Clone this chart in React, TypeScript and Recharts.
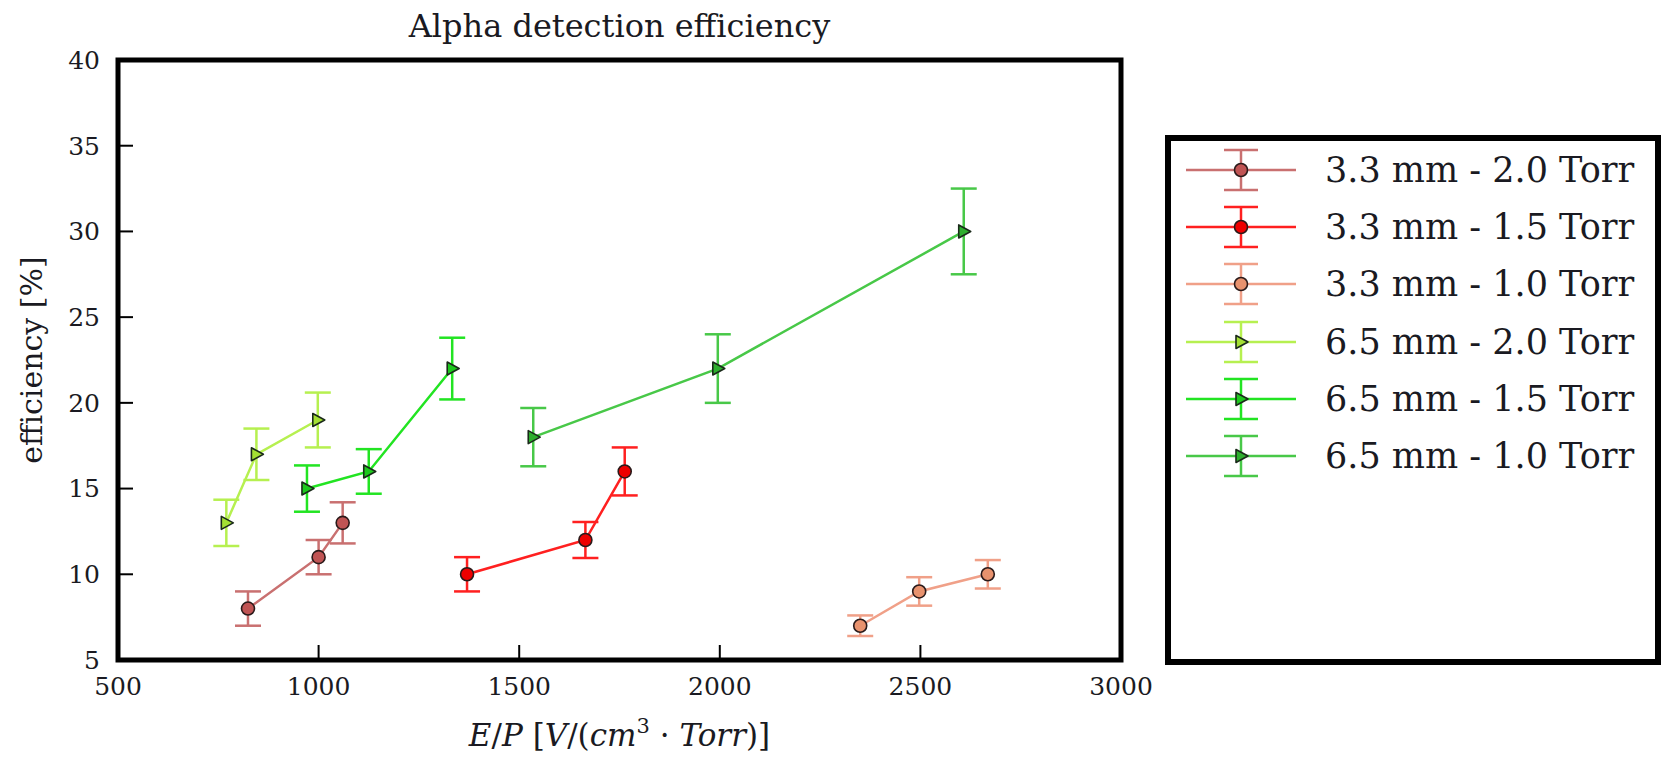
import {
  ScatterChart,
  Scatter,
  XAxis,
  YAxis,
  ErrorBar,
  ReferenceArea,
  Legend,
} from 'recharts';

const FONT = '"DejaVu Serif", "Liberation Serif", "Noto Serif", Times, serif';
const INK = '#1a1a22';

// E/P [V/(cm3 Torr)], efficiency [%], error [%]
const ep_33_20 = [824, 1000, 1060];
const eff_33_20 = [8, 11, 13];
const err_33_20 = [1.0, 1.0, 1.2];

const ep_33_15 = [1370, 1665, 1763];
const eff_33_15 = [10, 12, 16];
const err_33_15 = [1.0, 1.05, 1.4];

const ep_33_10 = [2350, 2497, 2668];
const eff_33_10 = [7, 9, 10];
const err_33_10 = [0.6, 0.83, 0.83];

const ep_65_20 = [770, 845, 998];
const eff_65_20 = [13, 17, 19];
const err_65_20 = [1.35, 1.5, 1.6];

const ep_65_15 = [971, 1125, 1333];
const eff_65_15 = [15, 16, 22];
const err_65_15 = [1.35, 1.3, 1.8];

const ep_65_10 = [1535, 1995, 2608];
const eff_65_10 = [18, 22, 30];
const err_65_10 = [1.7, 2.0, 2.5];

const xTicks = [500, 1000, 1500, 2000, 2500, 3000];
const yTicks = [5, 10, 15, 20, 25, 30, 35, 40];

const toPoints = (ep: number[], eff: number[], err: number[]) =>
  ep.map((x, i) => ({ ep: x, eff: eff[i], err: err[i] }));

type Marker = 'circle' | 'triangle';

const series: { name: string; line: string; fill: string; marker: Marker; data: any[] }[] = [
  { name: '3.3 mm - 2.0 Torr', line: '#c97070', fill: '#c05454', marker: 'circle', data: toPoints(ep_33_20, eff_33_20, err_33_20) },
  { name: '3.3 mm - 1.5 Torr', line: '#ff2020', fill: '#ee0000', marker: 'circle', data: toPoints(ep_33_15, eff_33_15, err_33_15) },
  { name: '3.3 mm - 1.0 Torr', line: '#f0a088', fill: '#e8926e', marker: 'circle', data: toPoints(ep_33_10, eff_33_10, err_33_10) },
  { name: '6.5 mm - 2.0 Torr', line: '#b6f050', fill: '#a4e034', marker: 'triangle', data: toPoints(ep_65_20, eff_65_20, err_65_20) },
  { name: '6.5 mm - 1.5 Torr', line: '#22e422', fill: '#1ec81e', marker: 'triangle', data: toPoints(ep_65_15, eff_65_15, err_65_15) },
  { name: '6.5 mm - 1.0 Torr', line: '#48c848', fill: '#2eae2e', marker: 'triangle', data: toPoints(ep_65_10, eff_65_10, err_65_10) },
];

function MarkerShape({ cx, cy, kind, fill }: { cx: number; cy: number; kind: Marker; fill: string }) {
  if (kind === 'circle') {
    return <circle cx={cx} cy={cy} r={6.5} fill={fill} stroke="#2a1a1a" strokeWidth={1.6} />;
  }
  return (
    <polygon
      points={`${cx + 7},${cy} ${cx - 5},${cy - 6.5} ${cx - 5},${cy + 6.5}`}
      fill={fill}
      stroke="#1a2a1a"
      strokeWidth={1.6}
      strokeLinejoin="round"
    />
  );
}

function LegendBox() {
  return (
    <div
      style={{
        boxSizing: 'border-box',
        width: 496,
        height: 530,
        border: '6px solid #000',
        background: '#fff',
        fontFamily: FONT,
      }}
    >
      {series.map((s) => (
        <div key={s.name} style={{ display: 'flex', alignItems: 'center', height: 57.3 }}>
          <svg width={110} height={50} style={{ marginLeft: 15, flex: 'none' }}>
            <line x1={0} y1={25} x2={110} y2={25} stroke={s.line} strokeWidth={2.5} />
            <line x1={55} y1={5} x2={55} y2={45} stroke={s.line} strokeWidth={2.5} />
            <line x1={38} y1={5} x2={72} y2={5} stroke={s.line} strokeWidth={2.5} />
            <line x1={38} y1={45} x2={72} y2={45} stroke={s.line} strokeWidth={2.5} />
            <MarkerShape cx={55} cy={25} kind={s.marker} fill={s.fill} />
          </svg>
          <span style={{ marginLeft: 29, fontSize: 35, color: INK, whiteSpace: 'nowrap' }}>
            {s.name}
          </span>
        </div>
      ))}
    </div>
  );
}

function YTitle(props: any) {
  const vb = props.viewBox || { x: 0, y: 60, height: 600 };
  const x = vb.x + 31;
  const y = vb.y + vb.height / 2;
  return (
    <text
      x={x}
      y={y}
      transform={`rotate(-90 ${x} ${y})`}
      textAnchor="middle"
      dominantBaseline="central"
      fontFamily={FONT}
      fontSize={30}
      fill={INK}
    >
      efficiency [%]
    </text>
  );
}

function XTitle(props: any) {
  const vb = props.viewBox || { x: 118, y: 660, width: 1003 };
  const x = vb.x + vb.width / 2;
  const y = vb.y + 86;
  return (
    <text x={x} y={y} textAnchor="middle" fontFamily={FONT} fontSize={31} fill={INK}>
      <tspan fontStyle="italic">E</tspan>
      <tspan>/</tspan>
      <tspan fontStyle="italic">P</tspan>
      <tspan> [</tspan>
      <tspan fontStyle="italic">V</tspan>
      <tspan>/(</tspan>
      <tspan fontStyle="italic">cm</tspan>
      <tspan fontSize={21} dy={-13}>3</tspan>
      <tspan dy={13}> · </tspan>
      <tspan fontStyle="italic">Torr</tspan>
      <tspan>)]</tspan>
    </text>
  );
}

const tickStyle = { fontFamily: FONT, fontSize: 25, fill: INK };

export default function App() {
  return (
    <div style={{ position: 'absolute', left: 0, top: 0, width: 1665, height: 757, background: '#fff' }}>
      <div
        style={{
          position: 'absolute',
          left: 118,
          width: 1003,
          top: 6,
          textAlign: 'center',
          fontFamily: FONT,
          fontSize: 32,
          lineHeight: '40px',
          color: INK,
          zIndex: 2,
        }}
      >
        Alpha detection efficiency
      </div>
      <ScatterChart width={1665} height={757} margin={{ top: 60, right: 544, bottom: 0, left: 0 }}>
        <XAxis
          dataKey="ep"
          type="number"
          domain={[500, 3000]}
          ticks={xTicks}
          height={97}
          axisLine={false}
          tickSize={-15}
          tickMargin={32}
          tickLine={{ stroke: '#000', strokeWidth: 2 }}
          tick={tickStyle}
          label={<XTitle />}
        />
        <XAxis
          xAxisId="top"
          orientation="top"
          type="number"
          domain={[500, 3000]}
          ticks={xTicks}
          height={0}
          axisLine={false}
          tickSize={-15}
          tickLine={{ stroke: '#000', strokeWidth: 2 }}
          tick={false}
        />
        <YAxis
          dataKey="eff"
          type="number"
          domain={[5, 40]}
          ticks={yTicks}
          width={118}
          axisLine={false}
          tickSize={-15}
          tickMargin={33}
          tickLine={{ stroke: '#000', strokeWidth: 2 }}
          tick={tickStyle}
          label={<YTitle />}
        />
        <YAxis
          yAxisId="right"
          orientation="right"
          type="number"
          domain={[5, 40]}
          ticks={yTicks}
          width={0}
          axisLine={false}
          tickSize={-15}
          tickLine={{ stroke: '#000', strokeWidth: 2 }}
          tick={false}
        />
        <ReferenceArea x1={500} x2={3000} y1={5} y2={40} fill="none" stroke="#000" strokeWidth={5} />
        {series.map((s) => (
          <Scatter
            key={s.name}
            name={s.name}
            data={s.data}
            fill={s.fill}
            line={{ stroke: s.line, strokeWidth: 2.5 }}
            lineType="joint"
            isAnimationActive={false}
            shape={(p: any) => <MarkerShape cx={p.cx} cy={p.cy} kind={s.marker} fill={s.fill} />}
          >
            <ErrorBar dataKey="err" direction="y" width={13} stroke={s.line} strokeWidth={2.5} />
          </Scatter>
        ))}
        <Legend
          layout="vertical"
          align="center"
          verticalAlign="middle"
          content={() => <LegendBox />}
          wrapperStyle={{ position: 'absolute', left: 1165, top: 135, width: 496, height: 530 }}
        />
      </ScatterChart>
    </div>
  );
}
